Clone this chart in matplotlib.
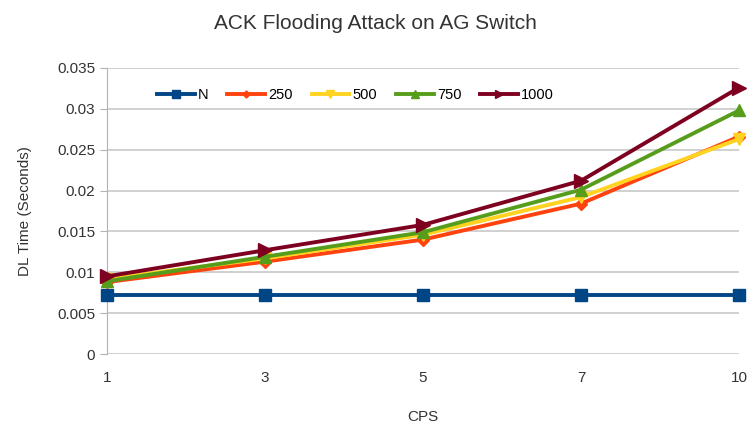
import matplotlib
matplotlib.use('Agg')
import matplotlib.pyplot as plt
import numpy as np

plt.rcParams['font.family'] = ['Liberation Sans', 'DejaVu Sans']

# Data
cps = ['1', '3', '5', '7', '10']
series_names = ['N', '250', '500', '750', '1000']
n_vals = [0.0072, 0.0072, 0.0072, 0.0072, 0.0072]
v250 = [0.0088, 0.0113, 0.0140, 0.0184, 0.0266]
v500 = [0.0092, 0.0117, 0.0146, 0.0192, 0.0263]
v750 = [0.0089, 0.0119, 0.0149, 0.0201, 0.0298]
v1000 = [0.0095, 0.0127, 0.0158, 0.0212, 0.0326]

colors = ['#004586', '#ff420e', '#ffd320', '#579d1c', '#7e0021']
markers = ['s', 'D', 'v', '^', '>']
msizes = [9, 6, 9, 9, 10]

fig = plt.figure(figsize=(7.5, 4.26), dpi=100)
ax = fig.add_axes([0.1427, 0.169, 0.8426, 0.6714])

x = np.arange(len(cps))
for name, vals, c, m, ms in zip(series_names, [n_vals, v250, v500, v750, v1000],
                                colors, markers, msizes):
    ax.plot(x, vals, color=c, marker=m, markersize=ms, linewidth=2.8,
            label=name, clip_on=False, zorder=3)

ax.set_xlim(0, len(cps) - 1)
ax.set_ylim(0, 0.035)
ax.set_xticks(x)
ax.set_xticklabels(cps)
ax.set_yticks(np.arange(0, 0.0351, 0.005))
ax.set_yticklabels(['0', '0.005', '0.01', '0.015', '0.02', '0.025', '0.03', '0.035'])
ax.yaxis.grid(True, color='#c8c8c8', linewidth=1.2)
ax.set_axisbelow(True)
for s in ['top', 'right', 'bottom']:
    ax.spines[s].set_visible(False)
ax.spines['left'].set_color('#b3b3b3')
ax.tick_params(axis='y', colors='#b3b3b3', labelcolor='#333333', labelsize=11, length=5)
ax.tick_params(axis='x', length=0, labelcolor='#333333', labelsize=11, pad=12)

ax.set_xlabel('CPS', fontsize=11, color='#333333', labelpad=18)
ax.set_ylabel('DL Time (Seconds)', fontsize=11, color='#333333', labelpad=18)
fig.text(0.5, 0.945, 'ACK Flooding Attack on AG Switch', ha='center', va='center',
         fontsize=15, color='#333333')

leg = ax.legend(ncol=5, loc='upper left', bbox_to_anchor=(0.058, 0.975), frameon=False,
                fontsize=10.5, handlelength=2.6, markerscale=0.6, columnspacing=1.3,
                handletextpad=0.2)

fig.savefig('out.png', dpi=100)
